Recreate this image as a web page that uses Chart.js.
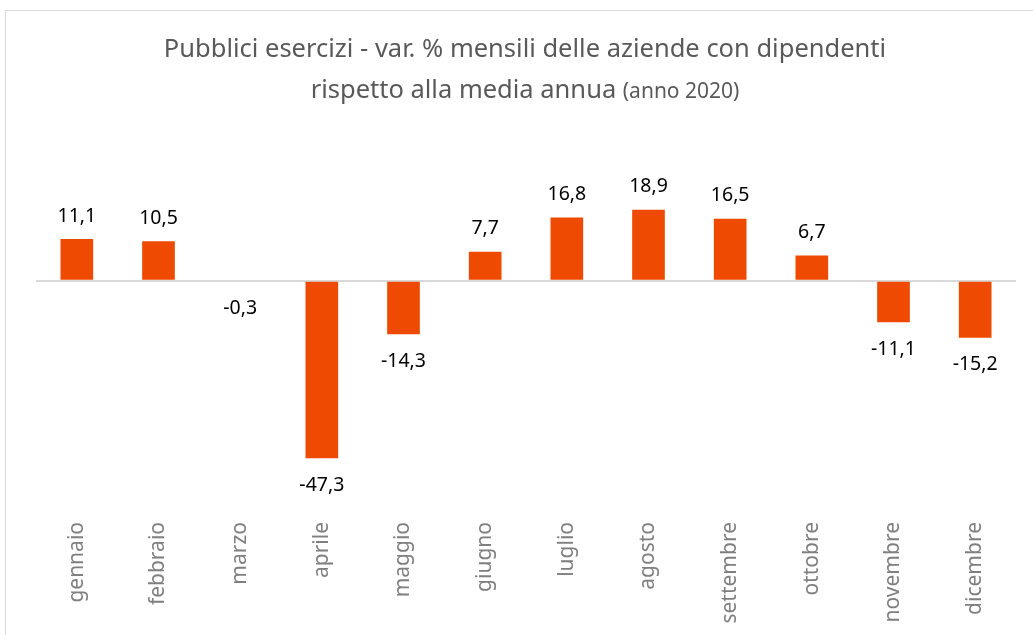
<!DOCTYPE html>
<html>
<head>
<meta charset="utf-8">
<script src="https://cdn.jsdelivr.net/npm/chart.js@4"></script>
<style>
  html, body { margin: 0; padding: 0; background: #fff; overflow: hidden; }
  #wrap { position: relative; width: 1033px; height: 635px; }
  #frame { position: absolute; left: 5px; top: 10px; width: 1100px; height: 700px; border: 1.5px solid #d9d9d9; box-sizing: border-box; }
  canvas { position: absolute; left: 0; top: 0; }
</style>
</head>
<body>
<div id="wrap">
  <div id="frame"></div>
  <canvas id="c" width="1033" height="635"></canvas>
</div>
<script>
const categories = ["gennaio","febbraio","marzo","aprile","maggio","giugno","luglio","agosto","settembre","ottobre","novembre","dicembre"];
const values = [11.1, 10.5, -0.3, -47.3, -14.3, 7.7, 16.8, 18.9, 16.5, 6.7, -11.1, -15.2];
const titleLine1 = "Pubblici esercizi - var. % mensili delle aziende con dipendenti";
const titleLine2Main = "rispetto alla media annua ";
const titleLine2Small = "(anno 2020)";

const FONT = "'Noto Sans', 'Open Sans', sans-serif";

const titlePlugin = {
  id: 'twoSizeTitle',
  afterDraw(chart) {
    const ctx = chart.ctx;
    const cx = 525;
    ctx.save();
    ctx.fillStyle = '#595959';
    ctx.textBaseline = 'alphabetic';
    ctx.textAlign = 'left';
    ctx.font = "25.5px " + FONT;
    const w1 = ctx.measureText(titleLine1).width;
    ctx.fillText(titleLine1, cx - w1 / 2, 57);
    const wm = ctx.measureText(titleLine2Main).width;
    ctx.font = "21px " + FONT;
    const ws = ctx.measureText(titleLine2Small).width;
    const start = cx - (wm + ws) / 2;
    ctx.font = "25.5px " + FONT;
    ctx.fillText(titleLine2Main, start, 98);
    ctx.font = "21px " + FONT;
    ctx.fillText(titleLine2Small, start + wm, 98);
    ctx.restore();
  }
};

const valueLabels = {
  id: 'valueLabels',
  afterDatasetsDraw(chart) {
    const ctx = chart.ctx;
    const meta = chart.getDatasetMeta(0);
    ctx.save();
    ctx.font = "19.5px " + FONT;
    ctx.fillStyle = '#000000';
    ctx.textAlign = 'center';
    ctx.textBaseline = 'middle';
    meta.data.forEach((bar, i) => {
      const v = values[i];
      const txt = v.toFixed(1).replace('.', ',');
      const y = v >= 0 ? bar.y - 23 : bar.y + 27;
      ctx.fillText(txt, bar.x, y);
    });
    ctx.restore();
  }
};

new Chart(document.getElementById('c'), {
  type: 'bar',
  data: {
    labels: categories,
    datasets: [{
      data: values,
      backgroundColor: '#EE4A02',
      borderWidth: 0,
      barPercentage: 1.0,
      categoryPercentage: 0.4
    }]
  },
  options: {
    responsive: false,
    animation: false,
    devicePixelRatio: 1,
    layout: { padding: { left: 36, right: 17, top: 168, bottom: 0 } },
    plugins: { legend: { display: false }, title: { display: false }, tooltip: { enabled: false } },
    scales: {
      x: {
        grid: { display: false },
        border: { display: false },
        ticks: {
          minRotation: 90, maxRotation: 90,
          color: '#7f7f7f',
          font: { family: FONT, size: 21 },
          padding: 8
        },
        afterFit(scale) { scale.height = 129; }
      },
      y: {
        min: -60, max: 30,
        ticks: { display: false, stepSize: 10 },
        border: { display: false },
        grid: {
          drawTicks: false,
          color: (c) => c.tick && c.tick.value === 0 ? '#d9d9d9' : 'rgba(0,0,0,0)',
          lineWidth: 2
        },
        afterFit(scale) { scale.width = 0; }
      }
    }
  },
  plugins: [titlePlugin, valueLabels]
});
</script>
</body>
</html>
